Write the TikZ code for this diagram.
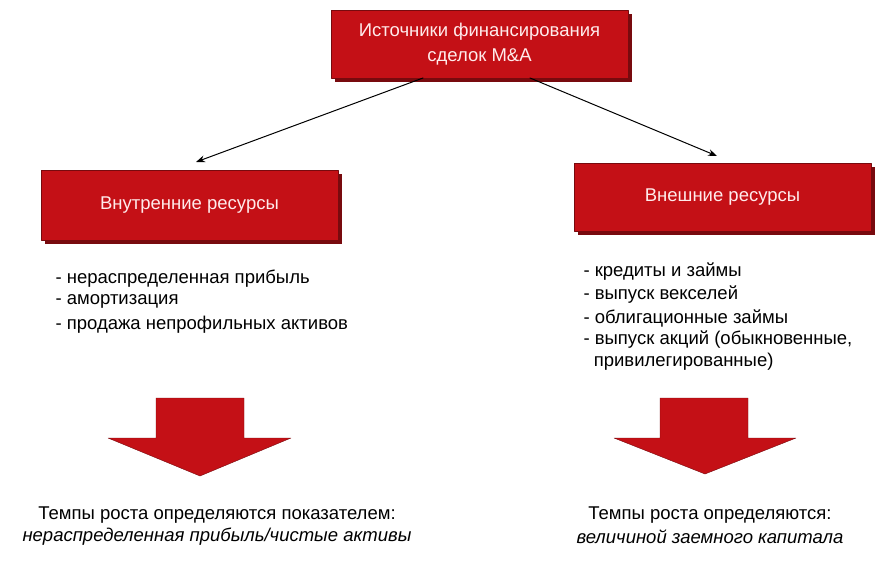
\documentclass[tikz,border=0pt]{standalone}
\usepackage{fontspec}
\setmainfont{Liberation Sans}
\usetikzlibrary{arrows.meta,positioning}
\definecolor{boxred}{RGB}{196,16,22}
\definecolor{shadowred}{RGB}{120,10,14}
\tikzset{
  redbox/.style={draw=shadowred,fill=boxred,text=white!92!red,minimum width=297pt,minimum height=68pt,align=center,font=\fontsize{18.5}{25}\selectfont},
  listtext/.style={anchor=west,font=\fontsize{18.5}{22}\selectfont},
  bottomtext/.style={font=\fontsize{18.5}{22}\selectfont},
  downarrow/.style={fill=boxred,draw=shadowred}
}
\begin{document}
\begin{tikzpicture}[x=1pt,y=-1pt,line cap=round,line join=round]
\useasboundingbox (0,0) rectangle (890,564);
%boxes
\fill[shadowred] (335,14) rectangle (632,82);
\node[redbox] (src) at (479.5,44) {Источники финансирования\\сделок M\&A};
\fill[shadowred] (45,174) rectangle (342,244);
\node[redbox,minimum height=70pt] (int) at (189.5,205) {Внутренние ресурсы};
\fill[shadowred] (578,167) rectangle (875,235);
\node[redbox] (ext) at (722.5,197) {Внешние ресурсы};
\coordinate (a1) at (423,78);
\coordinate (a2) at (530,78);
\draw[line width=1pt,-{Stealth[length=9pt]}] (a1) -- (196,162);
\draw[line width=1pt,-{Stealth[length=9pt]}] (a2) -- (717,156);
%lists
\node[listtext] (l1) at (52,279) {- нераспределенная прибыль};
\node[listtext] (l2) at (52,301) {- амортизация};
\node[listtext] (l3) at (52,325) {- продажа непрофильных активов};
\node[listtext] (r1) at (580,272) {- кредиты и займы};
\node[listtext] (r2) at (580,295) {- выпуск векселей};
\node[listtext] (r3) at (580,318) {- облигационные займы};
\node[listtext] (r4) at (580,340) {- выпуск акций (обыкновенные,};
\node[listtext] (r5) at (580,362) {\ \ привилегированные)};
%big arrows
\draw[downarrow] (156,398) -- (244,398) -- (244,438) -- (291,438) -- (200,476) -- (108,438) -- (156,438) -- cycle;
\draw[downarrow] (660,398) -- (748,398) -- (748,438) -- (796,438) -- (705,474) -- (614,438) -- (660,438) -- cycle;
%bottom texts
\node[bottomtext] (b1) at (217,515) {Темпы роста определяются показателем:};
\node[bottomtext,font=\fontsize{18.5}{22}\selectfont\itshape] (b2) at (217,537) {нераспределенная прибыль/чистые активы};
\node[bottomtext] (b3) at (710,515) {Темпы роста определяются:};
\node[bottomtext,font=\fontsize{18.5}{22}\selectfont\itshape] (b4) at (710,537) {величиной заемного капитала};
\end{tikzpicture}
\end{document}
